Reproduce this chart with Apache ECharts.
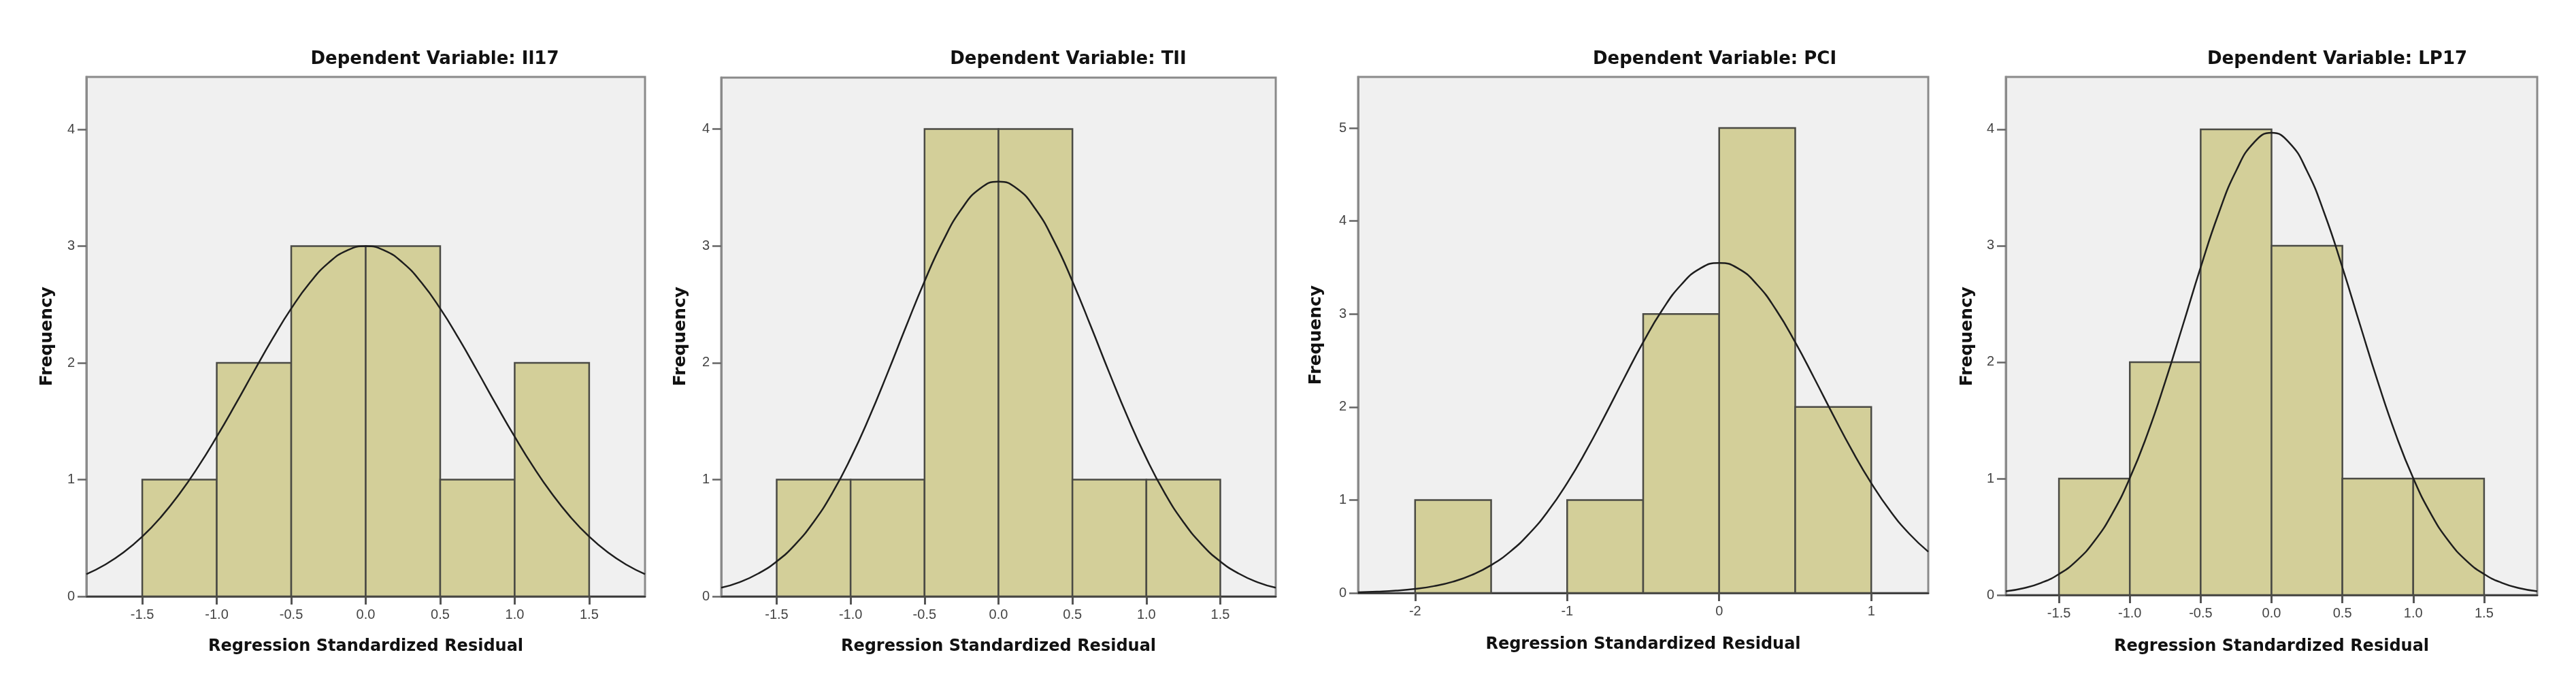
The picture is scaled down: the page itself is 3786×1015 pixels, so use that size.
<!DOCTYPE html>
<html>
<head>
<meta charset="utf-8">
<title>Regression Standardized Residual histograms</title>
<script src="https://cdn.jsdelivr.net/npm/echarts@6.0.0/dist/echarts.min.js"></script>
<style>
  html, body { margin: 0; padding: 0; background: #fff; }
  #main { width: 3786px; height: 1015px; }
</style>
</head>
<body>
<div id="main"></div>
<script>
// histogram counts, one per bin (bin width 0.5)
const il17Counts = [1, 2, 3, 3, 1, 2];
const tiiCounts = [1, 1, 4, 4, 1, 1];
const pciCounts = [1, 0, 1, 3, 5, 2];
const lp17Counts = [1, 2, 4, 3, 1, 1];

const binStarts = [-1.5, -1.0, -0.5, 0.0, 0.5, 1.0];
const pciBinStarts = [-2.0, -1.5, -1.0, -0.5, 0.0, 0.5];
const binWidth = 0.5;

// normal curve
const curveX = [-1.875, -1.75, -1.625, -1.5, -1.375, -1.25, -1.125, -1.0, -0.875, -0.75, -0.625, -0.5, -0.375, -0.25, -0.125, 0,
  0.125, 0.25, 0.375, 0.5, 0.625, 0.75, 0.875, 1.0, 1.125, 1.25, 1.375, 1.5, 1.625, 1.75, 1.875];
const pciCurveX = [-2.375, -2.25, -2.125, -2.0, -1.875, -1.75, -1.625, -1.5, -1.375, -1.25, -1.125, -1.0, -0.875, -0.75, -0.625, -0.5,
  -0.375, -0.25, -0.125, 0, 0.125, 0.25, 0.375, 0.5, 0.625, 0.75, 0.875, 1.0, 1.125, 1.25, 1.375];

const il17Curve = [0.190, 0.271, 0.377, 0.512, 0.679, 0.879, 1.110, 1.368, 1.644, 1.929, 2.208, 2.466, 2.687, 2.857, 2.964, 3.001,
  2.964, 2.857, 2.687, 2.466, 2.208, 1.929, 1.644, 1.368, 1.110, 0.879, 0.679, 0.512, 0.377, 0.271, 0.190];
const tiiCurve = [0.074, 0.122, 0.195, 0.299, 0.444, 0.637, 0.882, 1.182, 1.529, 1.912, 2.310, 2.697, 3.042, 3.315, 3.490, 3.550,
  3.490, 3.315, 3.042, 2.697, 2.310, 1.912, 1.529, 1.182, 0.882, 0.637, 0.444, 0.299, 0.195, 0.122, 0.074];
const pciCurve = [0.007, 0.014, 0.025, 0.044, 0.074, 0.122, 0.195, 0.299, 0.444, 0.637, 0.882, 1.182, 1.529, 1.912, 2.310, 2.697,
  3.042, 3.315, 3.490, 3.550, 3.490, 3.315, 3.042, 2.697, 2.310, 1.912, 1.529, 1.182, 0.882, 0.637, 0.444];
const lp17Curve = [0.032, 0.059, 0.105, 0.180, 0.295, 0.463, 0.697, 1.004, 1.385, 1.832, 2.320, 2.815, 3.272, 3.643, 3.885, 3.970,
  3.885, 3.643, 3.272, 2.815, 2.320, 1.832, 1.385, 1.004, 0.697, 0.463, 0.295, 0.180, 0.105, 0.059, 0.032];

// tick values / labels
const xTicks = [-1.5, -1.0, -0.5, 0.0, 0.5, 1.0, 1.5];
const xTickLabels = ['-1.5', '-1.0', '-0.5', '0.0', '0.5', '1.0', '1.5'];
const pciXTicks = [-2, -1, 0, 1];
const pciXTickLabels = ['-2', '-1', '0', '1'];
const yTicks = [0, 1, 2, 3, 4];
const pciYTicks = [0, 1, 2, 3, 4, 5];

const titles = ['Dependent Variable: Il17', 'Dependent Variable: TII', 'Dependent Variable: PCI', 'Dependent Variable: LP17'];

const panels = [
  { counts: il17Counts, starts: binStarts, cx: curveX, cy: il17Curve, xTicks: xTicks, xLabels: xTickLabels, yTicks: yTicks,
    xMin: -1.875, xMax: 1.875, yMax: 4.45 },
  { counts: tiiCounts, starts: binStarts, cx: curveX, cy: tiiCurve, xTicks: xTicks, xLabels: xTickLabels, yTicks: yTicks,
    xMin: -1.875, xMax: 1.875, yMax: 4.44 },
  { counts: pciCounts, starts: pciBinStarts, cx: pciCurveX, cy: pciCurve, xTicks: pciXTicks, xLabels: pciXTickLabels, yTicks: pciYTicks,
    xMin: -2.375, xMax: 1.375, yMax: 5.55 },
  { counts: lp17Counts, starts: binStarts, cx: curveX, cy: lp17Curve, xTicks: xTicks, xLabels: xTickLabels, yTicks: yTicks,
    xMin: -1.875, xMax: 1.875, yMax: 4.45 }
];

// layout (pixels)
const layout = [
  { left: 127, top: 113, width: 821, height: 763, titleX: 639, freqX: 69, freqY: 494, labelY: 950 },
  { left: 1060, top: 114, width: 815, height: 762, titleX: 1570, freqX: 1000, freqY: 494, labelY: 950 },
  { left: 1996, top: 113, width: 838, height: 758, titleX: 2520, freqX: 1934, freqY: 492, labelY: 947 },
  { left: 2948, top: 113, width: 781, height: 761, titleX: 3435, freqX: 2891, freqY: 494, labelY: 950 }
];

const barFill = '#d3cf99';
const barStroke = '#4a4a44';
const textColor = '#111';
const tickLabelColor = '#444';

const chart = echarts.init(document.getElementById('main'), null, { renderer: 'canvas' });

const grid = [], xAxis = [], yAxis = [], series = [], graphic = [];

panels.forEach((p, i) => {
  const l = layout[i];
  grid.push({
    left: l.left, top: l.top, width: l.width, height: l.height,
    show: true, backgroundColor: '#f0f0f0', borderColor: '#8a8a8a', borderWidth: 3,
    outerBoundsMode: 'none'
  });
  xAxis.push({
    type: 'value', gridIndex: i, min: p.xMin, max: p.xMax,
    splitLine: { show: false },
    axisLine: { show: true, onZero: false, lineStyle: { color: '#333', width: 2.5 } },
    axisTick: { show: true, customValues: p.xTicks, length: 12, lineStyle: { color: '#555', width: 3 } },
    axisLabel: {
      customValues: p.xTicks, margin: 17, fontSize: 20, color: tickLabelColor,
      fontFamily: '"Liberation Sans", Arial, sans-serif',
      formatter: v => p.xLabels[p.xTicks.findIndex(t => Math.abs(t - v) < 1e-6)]
    }
  });
  yAxis.push({
    type: 'value', gridIndex: i, min: 0, max: p.yMax,
    splitLine: { show: false },
    axisLine: { show: true, onZero: false, lineStyle: { color: '#8a8a8a', width: 3 } },
    axisTick: { show: true, customValues: p.yTicks, length: 13, lineStyle: { color: '#666', width: 2.5 } },
    axisLabel: {
      customValues: p.yTicks, margin: 17, fontSize: 20, color: tickLabelColor,
      fontFamily: '"Liberation Sans", Arial, sans-serif'
    }
  });

  const bars = p.counts.map((c, k) => [p.starts[k], p.starts[k] + binWidth, c]);
  series.push({
    type: 'custom', xAxisIndex: i, yAxisIndex: i, z: 2,
    encode: { x: [0, 1], y: 2 },
    data: bars,
    renderItem: (params, api) => {
      const h = api.value(2);
      if (!h) return null;
      const a = api.coord([api.value(0), h]);
      const b = api.coord([api.value(1), 0]);
      return {
        type: 'rect',
        shape: { x: a[0], y: a[1], width: b[0] - a[0], height: b[1] - a[1] },
        style: { fill: barFill, stroke: barStroke, lineWidth: 2.5 }
      };
    }
  });

  series.push({
    type: 'line', xAxisIndex: i, yAxisIndex: i, z: 3,
    data: p.cx.map((x, k) => [x, p.cy[k]]),
    smooth: true, symbol: 'none', clip: true,
    lineStyle: { color: '#1e1e1e', width: 2.5 }
  });

  graphic.push({
    type: 'text', x: l.titleX, y: 87, z: 10,
    style: { text: titles[i], font: 'bold 26px "DejaVu Sans", sans-serif', fill: textColor, align: 'center', verticalAlign: 'middle' }
  });
  graphic.push({
    type: 'text', x: l.freqX, y: l.freqY, rotation: Math.PI / 2, z: 10,
    style: { text: 'Frequency', font: 'bold 25px "DejaVu Sans", sans-serif', fill: textColor, align: 'center', verticalAlign: 'middle' }
  });
  graphic.push({
    type: 'text', x: l.left + l.width / 2, y: l.labelY, z: 10,
    style: { text: 'Regression Standardized Residual', font: 'bold 24px "DejaVu Sans", sans-serif', fill: textColor, align: 'center', verticalAlign: 'middle' }
  });
});

chart.setOption({
  backgroundColor: '#ffffff',
  animation: false,
  grid: grid,
  xAxis: xAxis,
  yAxis: yAxis,
  series: series,
  graphic: graphic
});
</script>
</body>
</html>
